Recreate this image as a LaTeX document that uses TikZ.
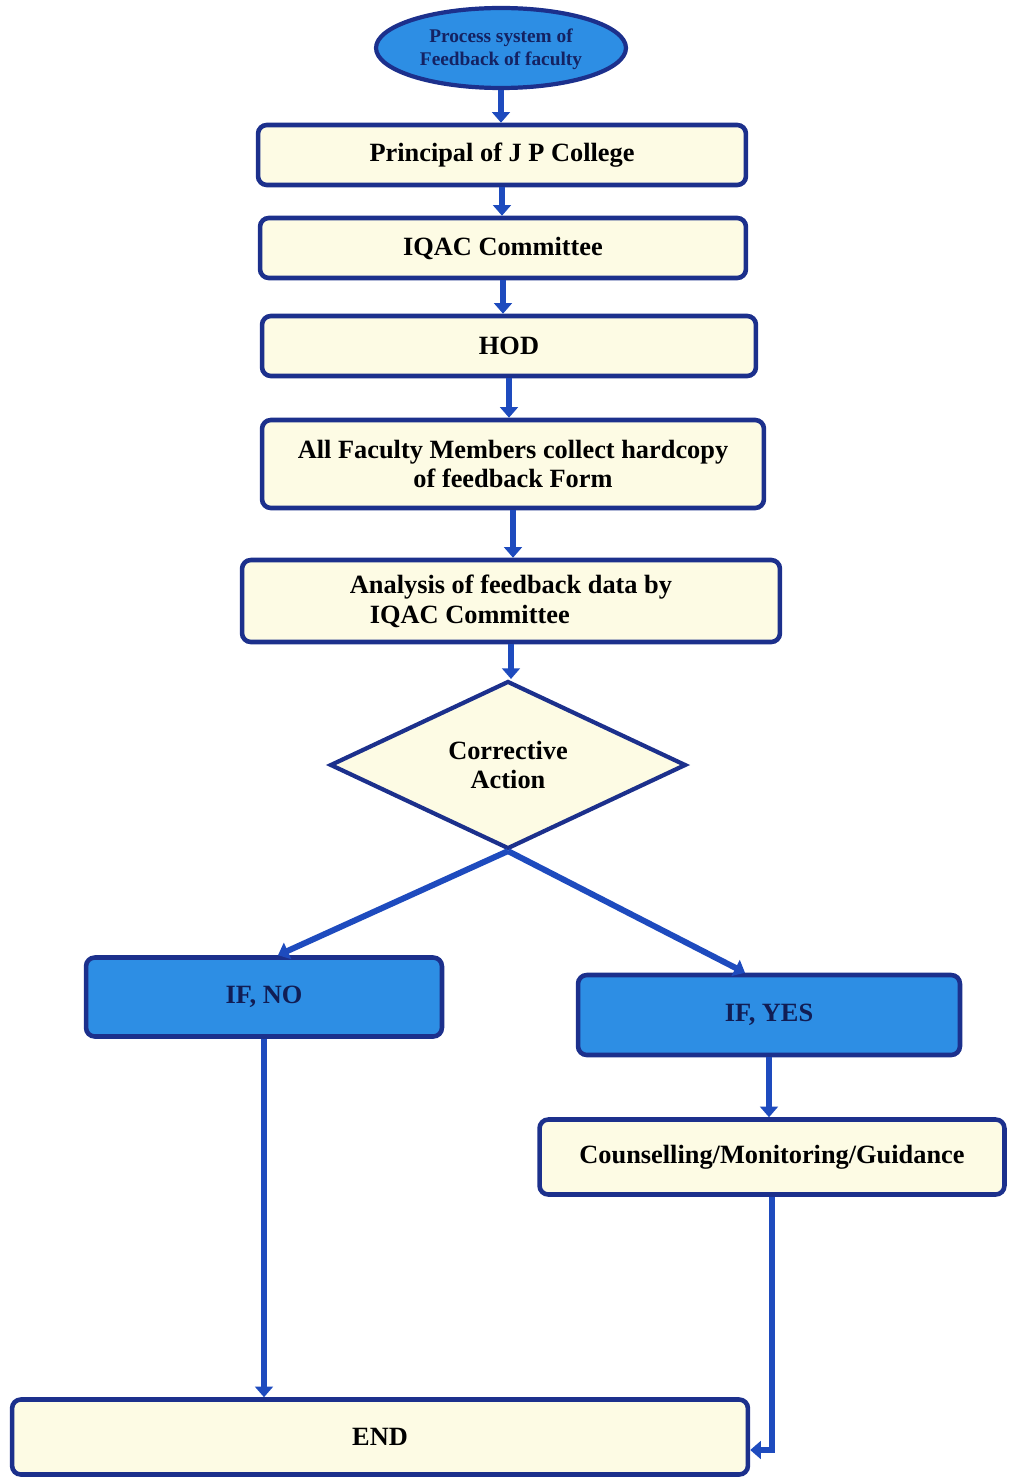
\documentclass[tikz,border=0pt]{standalone}
\usepackage{fontspec}
\setmainfont{Liberation Serif}
\definecolor{stepnavy}{RGB}{28, 48, 140}
\definecolor{flowblue}{RGB}{30, 75, 190}
\definecolor{skyblue}{RGB}{45, 142, 228}
\definecolor{creamfill}{RGB}{253, 251, 228}
\usepackage{tikz}
\usetikzlibrary{shapes, arrows.meta, positioning}

\begin{document}
\begin{tikzpicture}[x=0.02cm, y=-0.02cm,
    font=\fontsize{15}{17}\selectfont\bfseries,
    box/.style={draw=stepnavy, fill=creamfill, line width=2.6pt, rounded corners=5pt,
                inner sep=0pt, minimum height=1.2cm, align=center},
    choice/.style={box, fill=skyblue, text=stepnavy!60!black, minimum height=1.6cm},
    flow/.style={draw=flowblue, line width=3.4pt, -{Triangle[width=10pt, length=6pt]}}]
  \useasboundingbox (0,0) rectangle (1008,1483);

  \node[ellipse, draw=stepnavy, fill=skyblue, line width=2.4pt, inner sep=0pt,
        minimum width=5cm, minimum height=1.6cm, text=stepnavy!70!black, align=center,
        font=\fontsize{11}{13}\selectfont\bfseries] (start) at (501,48)
        {\strut Process system of\\Feedback of faculty};
  \node[box, minimum width=9.76cm] (principal) at (502,155) {Principal of J P College};
  \node[box, minimum width=9.72cm] (iqac) at (503,248) {IQAC Committee};
  \node[box, minimum width=9.88cm] (hod) at (509,346) {HOD};
  \node[box, minimum width=10.04cm, minimum height=1.76cm] (faculty) at (513,464)
        {All Faculty Members collect hardcopy\\of feedback Form};
  \node[box, minimum width=10.76cm, minimum height=1.64cm, align=left] (analysis) at (511,601)
        {Analysis of feedback data by\\\hspace*{0.4cm}IQAC Committee};
  \node[diamond, draw=stepnavy, fill=creamfill, line width=2.4pt, inner sep=0pt,
        minimum width=7.12cm, minimum height=3.3cm, align=center] (decide) at (508,765)
        {Corrective\\Action};
  \node[choice, minimum width=7.12cm, minimum height=1.58cm] (ifno) at (264,997) {IF, NO};
  \node[choice, minimum width=7.64cm] (ifyes) at (769,1015) {IF, YES};
  \node[box, minimum width=9.3cm, minimum height=1.5cm] (counsel) at (772,1157)
        {Counselling/Monitoring/Guidance};
  \node[box, minimum width=14.72cm, minimum height=1.5cm] (finish) at (380,1437) {END};

  % main line
  \draw[flow] (start.south) -- (start.south |- principal.north);
  \draw[flow] (principal.south) -- (principal.south |- iqac.north);
  \draw[flow] (iqac.south) -- (iqac.south |- hod.north);
  \draw[flow] (hod.south) -- (hod.south |- faculty.north);
  \draw[flow] (faculty.south) -- (faculty.south |- analysis.north);
  \draw[flow] (analysis.south) -- (analysis.south |- decide.north);

  % decision
  \draw[flow] (decide.south) -- ([xshift=0.28cm]ifno.north);
  \draw[flow] (decide.south) -- ([xshift=-0.48cm]ifyes.north);
  \draw[flow] (ifyes.south) -- (ifyes.south |- counsel.north);
  \draw[flow] (ifno.south) -- (ifno.south |- finish.north);
  \draw[flow] (counsel.south) |- ([yshift=-0.26cm]finish.east);
\end{tikzpicture}
\end{document}
